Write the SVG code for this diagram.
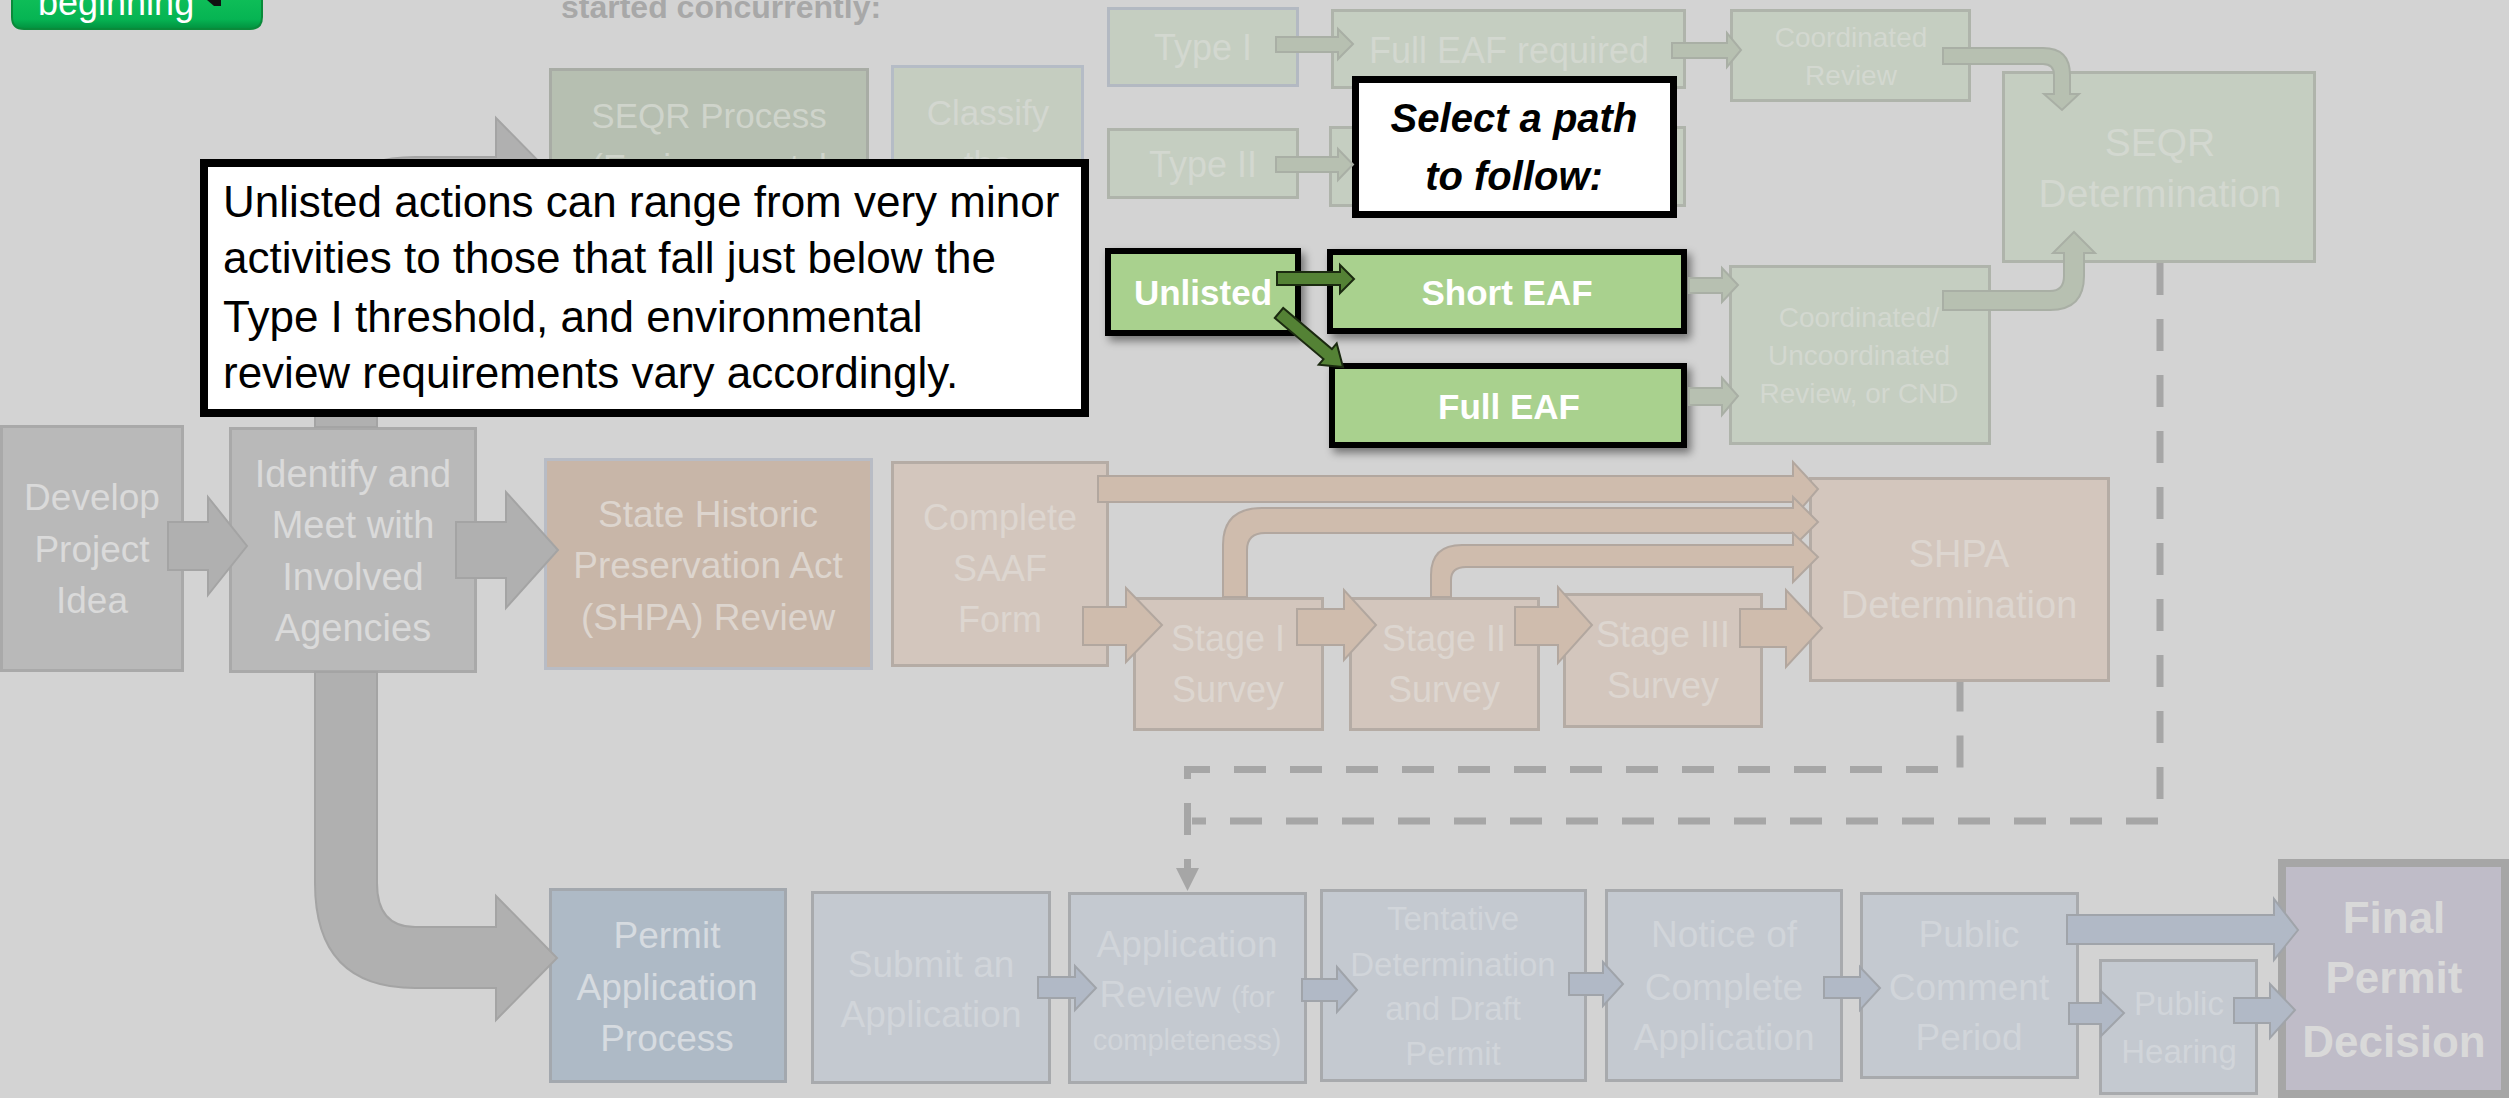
<svg xmlns="http://www.w3.org/2000/svg" width="2509" height="1098" viewBox="0 0 2509 1098">
<defs>
<linearGradient id="gBtn" x1="0" y1="0" x2="0" y2="1">
<stop offset="0" stop-color="#12c25a"/><stop offset="0.75" stop-color="#06b453"/><stop offset="1" stop-color="#02903e"/>
</linearGradient>
<filter id="sh" x="-10%" y="-10%" width="130%" height="140%">
<feDropShadow dx="4" dy="5" stdDeviation="4" flood-color="#000" flood-opacity="0.45"/>
</filter>
</defs>
<style>
text{font-family:"Liberation Sans",Arial,sans-serif;text-anchor:middle}
.gbox{fill:#b9b9b9;stroke:#a9a9a9;stroke-width:3}
.gtx{fill:#dadada;font-size:37px}
.sbox{fill:#c5cec1;stroke:#afb4ab;stroke-width:3}
.stx{fill:#d3d8d0}
.hbox{fill:#d3c6bd;stroke:#b5aca5;stroke-width:3}
.htx{fill:#ddd6d0;font-size:36px}
.pbox{fill:#c4c9d0;stroke:#a8aaad;stroke-width:3}
.ptx{fill:#d1d5da;font-size:37px}
.grn{fill:#a9d18e;stroke:#000;stroke-width:6;filter:url(#sh)}
.wtx{fill:#fff;font-size:35px;font-weight:bold}
.ga{fill:#b0b0b0;stroke:#a4a4a4;stroke-width:2}
.sa{fill:#b7c0b1;stroke:#a9afa5;stroke-width:2}
.ha{fill:#cfbcad;stroke:#b2a79f;stroke-width:2}
.pa{fill:#b1b9c6;stroke:#a0a4aa;stroke-width:2}
.da{fill:#548235;stroke:#1b2a10;stroke-width:2}
.dash{fill:none;stroke:#a6a6a6;stroke-width:7;stroke-dasharray:32 24}
</style>
<rect x="0" y="0" width="2509" height="1098" fill="#d3d3d3"/>

<g id="btn-beginning">
<path d="M12 -10 H262 V17 Q262 29 250 29 H24 Q12 29 12 17 Z" fill="url(#gBtn)" stroke="#0a8a3a" stroke-width="2"/>
<text x="38" y="15" style="text-anchor:start;font-size:36px;fill:#fff">beginning</text>
<polygon points="207,0 221,0 221,6 214,6" fill="#111"/>
</g>

<g id="heading">
<text x="561" y="18" style="text-anchor:start;font-size:32px;font-weight:bold;fill:#a8a8a8">started concurrently:</text>
</g>

<g id="node-develop">
<rect class="gbox" x="1.5" y="426.5" width="181" height="244"/>
<text class="gtx" x="92"><tspan x="92" y="510">Develop</tspan><tspan x="92" y="562">Project</tspan><tspan x="92" y="613">Idea</tspan></text>
</g>
<g id="node-identify">
<rect class="gbox" x="230.5" y="428.5" width="245" height="243"/>
<text class="gtx" x="353" style="font-size:38px"><tspan x="353" y="487">Identify and</tspan><tspan x="353" y="538">Meet with</tspan><tspan x="353" y="590">Involved</tspan><tspan x="353" y="641">Agencies</tspan></text>
</g>

<g id="node-seqr-process">
<rect x="550.5" y="69.5" width="317" height="260" fill="#b6bfb1" stroke="#a8aca5" stroke-width="3"/>
<text x="709" style="font-size:35px;fill:#cfd4cb"><tspan x="709" y="128">SEQR Process</tspan><tspan x="709" y="179">(Environmental</tspan></text>
</g>
<g id="node-classify">
<rect x="892.5" y="66.5" width="190" height="260" fill="#c5cdc0" stroke="#b5bcc6" stroke-width="3"/>
<text x="988" style="font-size:35px;fill:#d3d7d0"><tspan x="988" y="125">Classify</tspan><tspan x="988" y="176">the</tspan></text>
</g>

<g id="node-type1">
<rect class="sbox" x="1108.5" y="8.5" width="189" height="77" style="stroke:#b3b9c2"/>
<text class="stx" x="1203" y="60" style="font-size:36px">Type I</text>
</g>
<g id="node-full-eaf-required">
<rect class="sbox" x="1332.5" y="10.5" width="352" height="77"/>
<text class="stx" x="1509" y="63" style="font-size:36px">Full EAF required</text>
</g>
<g id="node-coordinated-review">
<rect class="sbox" x="1731.5" y="10.5" width="238" height="90"/>
<text class="stx" x="1851" style="font-size:28px"><tspan x="1851" y="47">Coordinated</tspan><tspan x="1851" y="85">Review</tspan></text>
</g>
<g id="node-seqr-determination">
<rect class="sbox" x="2003.5" y="72.5" width="311" height="189"/>
<text class="stx" x="2160" style="font-size:39px"><tspan x="2160" y="156">SEQR</tspan><tspan x="2160" y="207">Determination</tspan></text>
</g>
<g id="node-type2">
<rect class="sbox" x="1108.5" y="129.5" width="189" height="68"/>
<text class="stx" x="1203" y="177" style="font-size:36px">Type II</text>
</g>
<g id="node-type2-result">
<rect class="sbox" x="1330.5" y="127.5" width="354" height="78"/>
</g>
<g id="node-coord-uncoord">
<rect class="sbox" x="1730.5" y="266.5" width="259" height="177"/>
<text class="stx" x="1859" style="font-size:28px"><tspan x="1859" y="327">Coordinated/</tspan><tspan x="1859" y="365">Uncoordinated</tspan><tspan x="1859" y="403">Review, or CND</tspan></text>
</g>

<g id="node-shpa-review">
<rect x="545.5" y="459.5" width="326" height="209" fill="#c8b6a8" stroke="#b8bcc5" stroke-width="3"/>
<text x="708" style="font-size:37px;fill:#ddd5ce"><tspan x="708" y="527">State Historic</tspan><tspan x="708" y="578">Preservation Act</tspan><tspan x="708" y="630">(SHPA) Review</tspan></text>
</g>
<g id="node-saaf">
<rect class="hbox" x="892.5" y="462.5" width="215" height="203"/>
<text class="htx" x="1000"><tspan x="1000" y="530">Complete</tspan><tspan x="1000" y="581">SAAF</tspan><tspan x="1000" y="632">Form</tspan></text>
</g>
<g id="node-stage1">
<rect class="hbox" x="1134.5" y="598.5" width="188" height="131"/>
<text class="htx" x="1228"><tspan x="1228" y="651">Stage I</tspan><tspan x="1228" y="702">Survey</tspan></text>
</g>
<g id="node-stage2">
<rect class="hbox" x="1350.5" y="598.5" width="188" height="131"/>
<text class="htx" x="1444"><tspan x="1444" y="651">Stage II</tspan><tspan x="1444" y="702">Survey</tspan></text>
</g>
<g id="node-stage3">
<rect class="hbox" x="1564.5" y="594.5" width="197" height="132"/>
<text class="htx" x="1663"><tspan x="1663" y="647">Stage III</tspan><tspan x="1663" y="698">Survey</tspan></text>
</g>
<g id="node-shpa-determination">
<rect class="hbox" x="1810.5" y="478.5" width="298" height="202"/>
<text class="htx" x="1959" style="font-size:38px"><tspan x="1959" y="567">SHPA</tspan><tspan x="1959" y="618">Determination</tspan></text>
</g>

<g id="node-permit-process">
<rect x="550.5" y="889.5" width="235" height="192" fill="#aebac6" stroke="#a3a8ae" stroke-width="3"/>
<text x="667" style="font-size:37px;fill:#d6dbe0"><tspan x="667" y="948">Permit</tspan><tspan x="667" y="1000">Application</tspan><tspan x="667" y="1051">Process</tspan></text>
</g>
<g id="node-submit">
<rect class="pbox" x="812.5" y="892.5" width="237" height="190"/>
<text class="ptx" x="931"><tspan x="931" y="977">Submit an</tspan><tspan x="931" y="1027">Application</tspan></text>
</g>
<g id="node-app-review">
<rect class="pbox" x="1069.5" y="893.5" width="236" height="189"/>
<text class="ptx" x="1187"><tspan x="1187" y="957">Application</tspan><tspan x="1187" y="1007">Review <tspan style="font-size:29px">(for</tspan></tspan><tspan x="1187" y="1050" style="font-size:29px">completeness)</tspan></text>
</g>
<g id="node-tentative">
<rect class="pbox" x="1321.5" y="890.5" width="264" height="190"/>
<text class="ptx" x="1453" style="font-size:33px"><tspan x="1453" y="930">Tentative</tspan><tspan x="1453" y="976">Determination</tspan><tspan x="1453" y="1020">and Draft</tspan><tspan x="1453" y="1065">Permit</tspan></text>
</g>
<g id="node-notice">
<rect class="pbox" x="1606.5" y="890.5" width="235" height="190"/>
<text class="ptx" x="1724"><tspan x="1724" y="947">Notice of</tspan><tspan x="1724" y="1000">Complete</tspan><tspan x="1724" y="1050">Application</tspan></text>
</g>
<g id="node-public-comment">
<rect class="pbox" x="1861.5" y="893.5" width="216" height="184"/>
<text class="ptx" x="1969"><tspan x="1969" y="947">Public</tspan><tspan x="1969" y="1000">Comment</tspan><tspan x="1969" y="1050">Period</tspan></text>
</g>
<g id="node-public-hearing">
<rect class="pbox" x="2100.5" y="960.5" width="156" height="133"/>
<text class="ptx" x="2179" style="font-size:33px"><tspan x="2179" y="1015">Public</tspan><tspan x="2179" y="1063">Hearing</tspan></text>
</g>
<g id="node-final">
<rect x="2282" y="863" width="223" height="231" fill="#bfbcc8" stroke="#a6a6a6" stroke-width="8"/>
<text x="2394" style="font-size:44px;font-weight:bold;fill:#d9d9d9"><tspan x="2394" y="933">Final</tspan><tspan x="2394" y="993">Permit</tspan><tspan x="2394" y="1057">Decision</tspan></text>
</g>

<g id="node-select-path">
<rect x="1355.5" y="79.5" width="318" height="135" fill="#fff" stroke="#000" stroke-width="7"/>
<text x="1514" style="font-size:40px;font-weight:bold;font-style:italic;fill:#000"><tspan x="1514" y="132">Select a path</tspan><tspan x="1514" y="190">to follow:</tspan></text>
</g>
<g id="node-unlisted">
<rect class="grn" x="1108" y="251" width="190" height="82"/>
<text class="wtx" x="1203" y="305">Unlisted</text>
</g>
<g id="node-short-eaf">
<rect class="grn" x="1330" y="252" width="354" height="79"/>
<text class="wtx" x="1507" y="305">Short EAF</text>
</g>
<g id="node-full-eaf">
<rect class="grn" x="1332" y="366" width="352" height="79"/>
<text class="wtx" x="1509" y="419">Full EAF</text>
</g>

<g id="connectors">
<polygon class="ga" points="168,522 208,522 208,497 247,546 208,595 208,570 168,570"/>
<polygon class="ga" points="456,522 506,522 506,492 558,550 506,608 506,578 456,578"/>
<path class="ga" d="M315 672 V883 Q315 988 415 988 H496 V1020 L557 958 L496 896 V927 H415 Q377 927 377 883 V672 Z"/>
<path class="ga" d="M315 427 V260 Q315 157 415 157 H496 V118 L557 180 L496 242 V218 H415 Q377 218 377 260 V427 Z"/>
<polygon class="sa" points="1276,37 1338,37 1338,29 1353,44 1338,59 1338,52 1276,52"/>
<polygon class="sa" points="1672,43 1727,43 1727,33 1741,50 1727,67 1727,58 1672,58"/>
<polygon class="sa" points="1276,157 1338,157 1338,149 1353,164.5 1338,180 1338,172 1276,172"/>
<polygon class="sa" points="1689,278 1722,278 1722,268 1738,285 1722,302 1722,293 1689,293"/>
<polygon class="sa" points="1689,388 1722,388 1722,378 1738,396 1722,415 1722,405 1689,405"/>
<path class="sa" d="M1943 48 H2043 Q2070 48 2070 75 V94 H2079 L2062 110 L2044 94 H2054 V75 Q2054 64 2043 64 H1943 Z"/>
<path class="sa" d="M1943 310 H2050 Q2084 310 2084 276 V253 H2095 L2074 232 L2053 253 H2064 V276 Q2064 291 2050 291 H1943 Z"/>
<polygon class="da" points="1277,272 1340,272 1340,265 1354,279 1340,293 1340,285 1277,285"/>
<polygon class="da" points="1274.8,318 1323.5,359.1 1318.7,364.8 1343,367 1336.7,343.4 1331.9,349.1 1283.2,308"/>
<polygon class="ha" points="1098,476 1793,476 1793,462 1818,489 1793,518 1793,502 1098,502"/>
<path class="ha" d="M1223 597 V545 Q1223 508 1262 508 H1793 V497 L1818 522 L1793 547 V533 H1265 Q1247 533 1247 550 V597 Z"/>
<path class="ha" d="M1431 597 V575 Q1431 545 1462 545 H1793 V533 L1818 557 L1793 582 V567 H1466 Q1451 567 1451 580 V597 Z"/>
<polygon class="ha" points="1083,607 1126,607 1126,588 1162,625 1126,662 1126,645 1083,645"/>
<polygon class="ha" points="1297,609 1344,609 1344,590 1376,625 1344,660 1344,645 1297,645"/>
<polygon class="ha" points="1515,607 1558,607 1558,587 1592,625 1558,663 1558,645 1515,645"/>
<polygon class="ha" points="1740,609 1786,609 1786,590 1822,628 1786,667 1786,647 1740,647"/>
<polygon class="pa" points="1038,977 1075,977 1075,966 1096,988 1075,1010 1075,998 1038,998"/>
<polygon class="pa" points="1302,979 1337,979 1337,967 1357,990 1337,1012 1337,1001 1302,1001"/>
<polygon class="pa" points="1569,973 1603,973 1603,962 1623,984 1603,1006 1603,995 1569,995"/>
<polygon class="pa" points="1824,977 1860,977 1860,967 1880,988 1860,1010 1860,998 1824,998"/>
<polygon class="pa" points="2067,915 2274,915 2274,899 2298,930 2274,960 2274,944 2067,944"/>
<polygon class="pa" points="2069,1003 2101,1003 2101,991 2124,1013 2101,1036 2101,1024 2069,1024"/>
<polygon class="pa" points="2234,998 2270,998 2270,984 2295,1010 2270,1038 2270,1023 2234,1023"/>
<path class="dash" d="M2160 263 V821 H1192"/>
<path class="dash" d="M1187.5 868 V769.5 H1960 V682" style="stroke-dashoffset:23"/>
<polygon points="1176,868 1199,868 1187.5,891" fill="#a6a6a6"/>
</g>

<g id="callout-unlisted">
<rect x="204" y="163" width="881" height="250" fill="#fff" stroke="#000" stroke-width="8"/>
<text style="text-anchor:start;font-size:44px;fill:#000"><tspan x="223" y="217">Unlisted actions can range from very minor</tspan><tspan x="223" y="273">activities to those that fall just below the</tspan><tspan x="223" y="332">Type I threshold, and environmental</tspan><tspan x="223" y="388">review requirements vary accordingly.</tspan></text>
</g>
</svg>
